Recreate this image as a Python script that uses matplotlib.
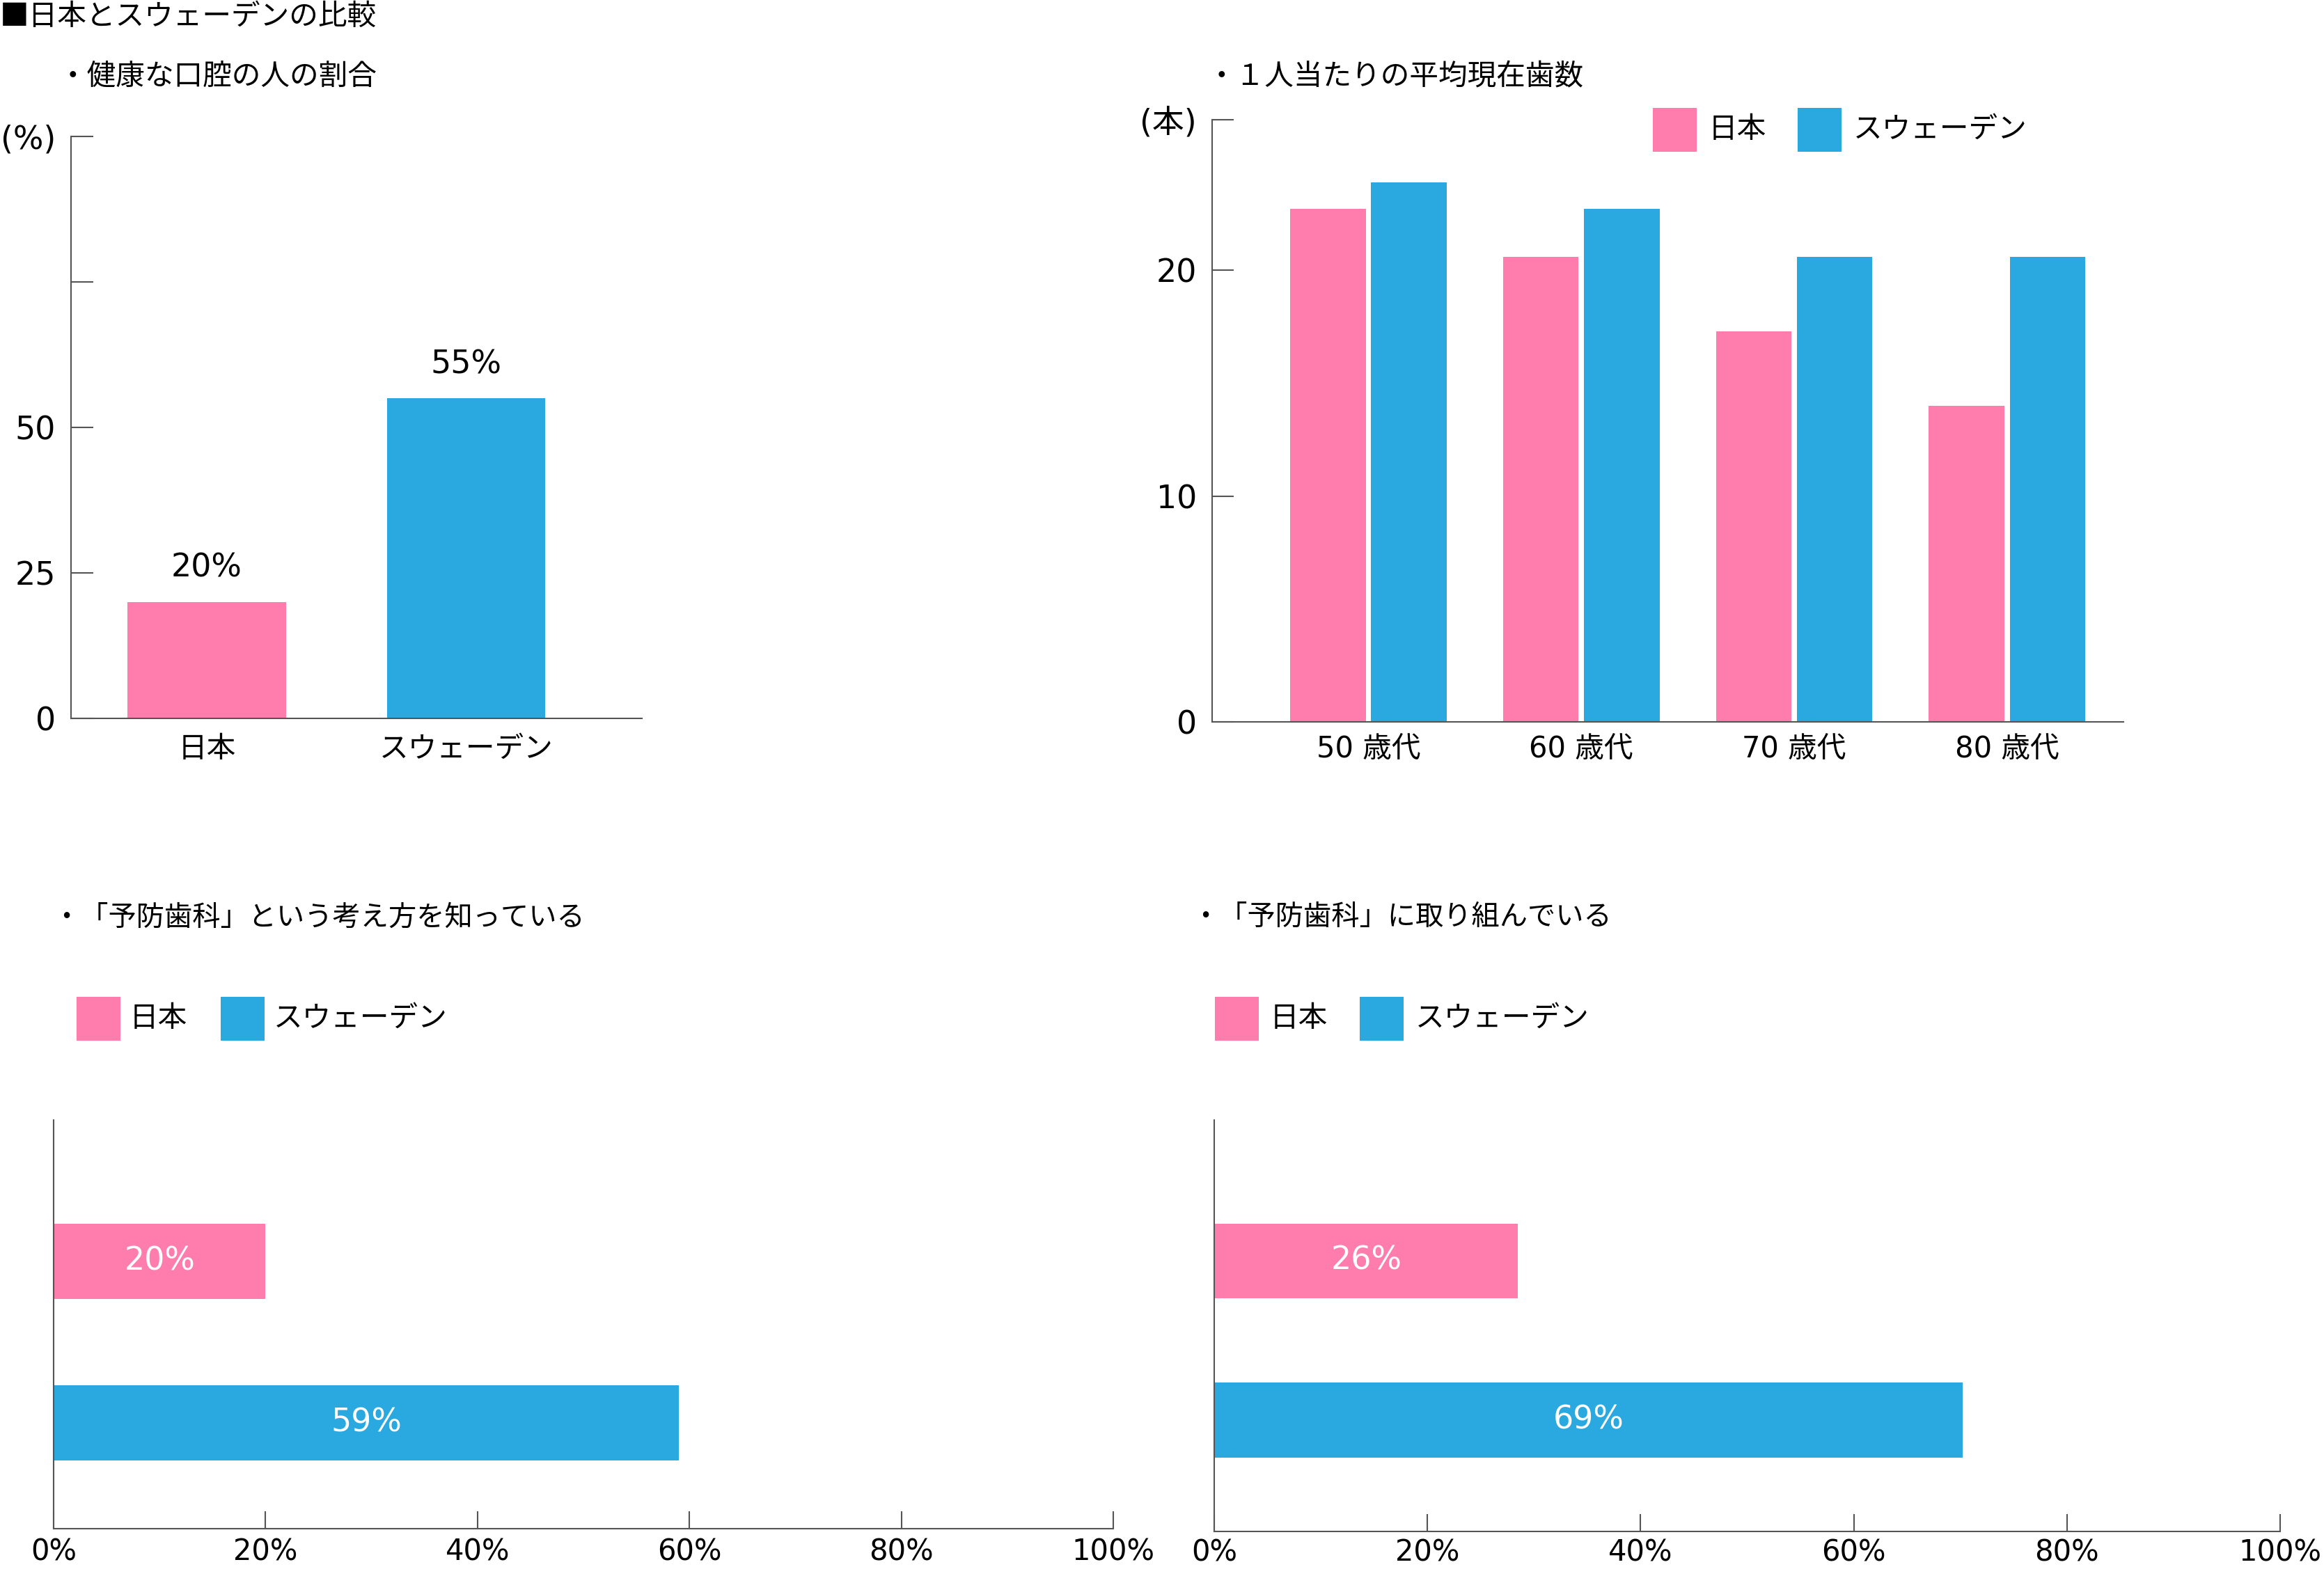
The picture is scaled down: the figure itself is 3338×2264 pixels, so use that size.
import matplotlib.pyplot as plt
from matplotlib.patches import Rectangle
import numpy as np

# data
countries = ['日本', 'スウェーデン']
healthy_pct = [20, 55]

age_groups = ['50 歳代', '60 歳代', '70 歳代', '80 歳代']
teeth_japan = [22.7, 20.6, 17.3, 14.0]
teeth_sweden = [23.9, 22.7, 20.6, 20.6]

know_pct = [20, 59]
know_labels = ['20%', '59%']
practice_pct = [28.5, 70.2]
practice_labels = ['26%', '69%']

pct_ticks = [0, 20, 40, 60, 80, 100]

PINK = '#FF7DAC'
BLUE = '#29A9E0'
AXC = '#555555'
JP = ['Noto Sans CJK JP', 'DejaVu Sans']
NUM = ['DejaVu Sans', 'Noto Sans CJK JP']

plt.rcParams['font.family'] = NUM

W, H = 3338, 2264
fig = plt.figure(figsize=(W / 100, H / 100), dpi=100)


def box(x0, y0, x1, y1):
    # pixel box of the reference -> figure fractions
    return [x0 / W, 1 - y1 / H, (x1 - x0) / W, (y1 - y0) / H]


def fx(x):
    return x / W


def fy(y):
    return 1 - y / H


def style(ax):
    for s in ['top', 'right']:
        ax.spines[s].set_visible(False)
    for s in ['left', 'bottom']:
        ax.spines[s].set_color(AXC)
        ax.spines[s].set_linewidth(1.5)


def legend(xs1, xt1, xs2, xt2, y0, y1):
    yc = (y0 + y1) / 2
    for xs, xt, c, lab in [(xs1, xt1, PINK, countries[0]), (xs2, xt2, BLUE, countries[1])]:
        fig.add_artist(Rectangle((fx(xs), fy(y1)), 63 / W, (y1 - y0) / H,
                                 transform=fig.transFigure, color=c, lw=0))
        fig.text(fx(xt), fy(yc), lab, family=JP, fontsize=30, va='center')


# titles
fig.text(fx(0), fy(24), '■日本とスウェーデンの比較', family=JP, fontsize=30, va='center')
fig.text(fx(84), fy(110), '・健康な口腔の人の割合', family=JP, fontsize=30, va='center')
fig.text(fx(1734), fy(111), '・１人当たりの平均現在歯数', family=JP, fontsize=30, va='center')
fig.text(fx(75), fy(1318), '・「予防歯科」という考え方を知っている', family=JP, fontsize=29, va='center')
fig.text(fx(1711), fy(1317), '・「予防歯科」に取り組んでいる', family=JP, fontsize=29, va='center')

# panel 1: healthy mouth ratio
ax1 = fig.add_axes(box(102, 196, 922, 1032))
x = np.arange(len(countries))
ax1.bar(x, healthy_pct, width=0.609, color=[PINK, BLUE], lw=0)
ax1.set_xlim(-0.523, 1.676)
ax1.set_ylim(0, 100)
ax1.set_yticks([0, 25, 50, 75, 100])
ax1.set_yticklabels(['0', '25', '50', '', '(%)'], fontsize=33)
ax1.set_xticks(x)
ax1.set_xticklabels(countries, family=JP, fontsize=30)
ax1.tick_params(axis='y', direction='in', length=23, width=1.5, color=AXC, pad=16)
ax1.tick_params(axis='x', length=0, pad=17)
style(ax1)
for xi, v in zip(x, healthy_pct):
    ax1.annotate(f'{v}%', (xi, v), xytext=(0, 26), textcoords='offset points',
                 ha='center', va='baseline', fontsize=33)

# panel 2: average number of teeth
ax2 = fig.add_axes(box(1741, 172, 3050, 1037))
g = np.arange(len(age_groups))
ax2.bar(g - 0.19, teeth_japan, width=0.355, color=PINK, lw=0)
ax2.bar(g + 0.19, teeth_sweden, width=0.355, color=BLUE, lw=0)
ax2.set_xlim(-0.734, 3.547)
ax2.set_ylim(0, 26.66)
ax2.set_yticks([0, 10, 20, 26.66])
ax2.set_yticklabels(['0', '10', '20', '(本)'], fontsize=33)
ax2.set_xticks(g)
ax2.set_xticklabels(age_groups, fontsize=30)
ax2.tick_params(axis='y', direction='in', length=22, width=1.5, color=AXC, pad=16)
ax2.tick_params(axis='x', length=0, pad=14)
style(ax2)
legend(2374, 2454, 2582, 2662, 155, 218)


# panels 3 and 4: horizontal bars
def hpanel(rect, vals, labels, ylim, height, pad):
    ax = fig.add_axes(rect)
    y = np.arange(len(vals))
    ax.barh(y, vals, height=height, color=[PINK, BLUE], lw=0)
    ax.set_xlim(0, 100)
    ax.set_ylim(*ylim)
    ax.set_yticks([])
    ax.set_xticks(pct_ticks)
    ax.set_xticklabels([f'{t}%' for t in pct_ticks], fontsize=30)
    ax.tick_params(axis='x', direction='in', length=18, width=1.5, color=AXC, pad=pad)
    style(ax)
    for yi, v, lab in zip(y, vals, labels):
        ax.text(v / 2, yi, lab, color='white', ha='center', va='center', fontsize=33)
    return ax


hpanel(box(77, 1609, 1599, 2196), know_pct, know_labels, (1.653, -0.875), 0.466, 9)
legend(110, 186, 317, 393, 1432, 1495)

hpanel(box(1744, 1609, 3275, 2200), practice_pct, practice_labels, (1.70, -0.886), 0.472, 7)
legend(1745, 1824, 1953, 2033, 1432, 1495)

fig.savefig('out.png', dpi=100)
